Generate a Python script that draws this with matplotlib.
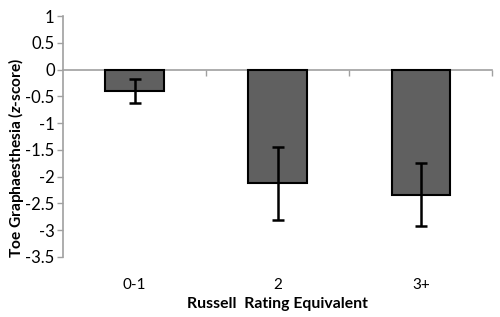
import matplotlib.pyplot as plt
import numpy as np

plt.rcParams['font.family'] = ['Lato', 'DejaVu Sans']
plt.rcParams['mathtext.fontset'] = 'custom'
plt.rcParams['mathtext.bfit'] = 'Lato:bold:italic'

categories = ['0-1', '2', '3+']
means = [-0.40, -2.13, -2.34]
errors = [0.22, 0.69, 0.59]

fig = plt.figure(figsize=(5, 3.17), dpi=100)
ax = fig.add_axes([0.126, 0.19, 0.859, 0.7595])

x = np.arange(len(categories))
ax.bar(x, means, width=0.41, color='#606060', edgecolor='black', linewidth=1.5, zorder=3)
ax.errorbar(x, means, yerr=errors, fmt='none', ecolor='black', elinewidth=1.8,
            capsize=4, capthick=1.8, zorder=4)

ax.set_xlim(-0.5, 2.5)
ax.set_ylim(-3.5, 1)
ax.set_yticks(np.arange(-3.5, 1.01, 0.5))
ax.set_yticklabels(['{:g}'.format(v) for v in np.arange(-3.5, 1.01, 0.5)])

# category labels along the bottom, zero line with boundary ticks on the "top" spine
ax.set_xticks(x)
ax.set_xticklabels(categories)
ax.set_xticks([0.5, 1.5, 2.5], minor=True)
ax.tick_params(axis='x', which='major', length=0, pad=15, labelsize=11)
ax.tick_params(axis='x', which='minor', bottom=False, top=True, direction='in',
               length=4, color='#a0a0a0', width=1)
ax.tick_params(axis='y', length=4, color='#a0a0a0', width=1, labelsize=12, pad=2)

ax.spines['bottom'].set_visible(False)
ax.spines['right'].set_visible(False)
ax.spines['top'].set_position(('data', 0))
ax.spines['top'].set_color('#a0a0a0')
ax.spines['top'].set_linewidth(1.2)
ax.spines['left'].set_color('#a0a0a0')
ax.spines['left'].set_linewidth(1.2)

ax.set_xlabel('Russell  Rating Equivalent', fontweight='bold', fontsize=11.3, labelpad=4)
ax.set_ylabel('Toe Graphaesthesia (' + r'$\mathbfit{z}$' + '-score)', fontweight='bold',
              fontsize=11.2)
ax.yaxis.set_label_coords(-0.085, 0.41)

plt.savefig('out.png', dpi=100)
